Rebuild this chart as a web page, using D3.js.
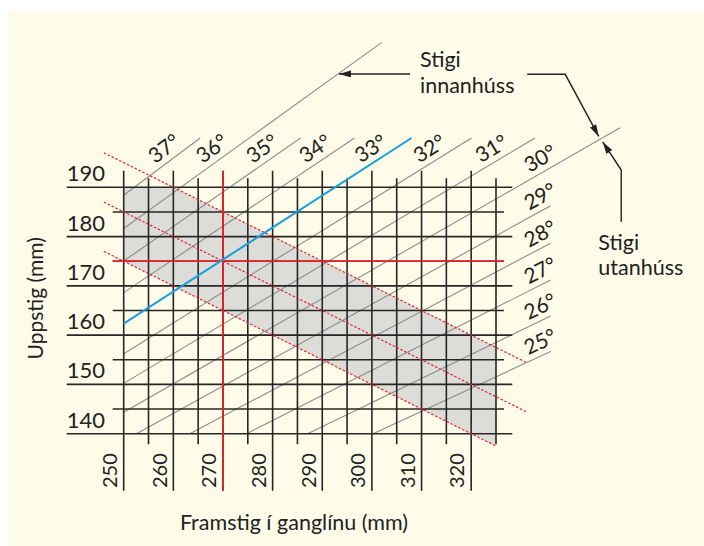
<!DOCTYPE html>
<html>
<head>
<meta charset="utf-8">
<script src="https://cdn.jsdelivr.net/npm/d3@7"></script>
<style>
  body { margin: 0; background: #fff; }
  text { font-family: Lato, "Open Sans", sans-serif; fill: #222; }
</style>
</head>
<body>
<div id="chart"></div>
<script>
var width = 704,
    height = 546;

// grid values (mm)
var xMajor = [250, 260, 270, 280, 290, 300, 310, 320];
var xMinor = [255, 265, 275, 285, 295, 305, 315, 325];
var yMajor = [140, 150, 160, 170, 180, 190];
var yMinor = [145, 155, 165, 175, 185];

// stair angles (degrees)
var angles = [25, 26, 27, 28, 29, 30, 31, 32, 33, 34, 35, 36, 37];
var upperLabels = [31, 32, 33, 34, 35, 36, 37];
var rightLabels = [25, 26, 27, 28, 29, 30];
// two lines run longer, for the notes
var longLines = [{angle: 30, xEnd: 350}, {angle: 36, xEnd: 302}];

// step rule 2R + G
var stepSums = [600, 620, 640];
var stepStart = [246, 246, 246];
var stepEnd = [325, 331, 331];

// chosen stair: 270 / 175, about 33 deg
var pick = {tread: 270, riser: 175, angle: 33};

var svg = d3.select("#chart").append("svg")
    .attr("width", width)
    .attr("height", height);

svg.append("rect")
    .attr("x", 9).attr("y", 11)
    .attr("width", width - 9).attr("height", height - 11)
    .attr("fill", "#fefce8");

var x = d3.scaleLinear().domain([250, 325]).range([123.7, 496]);
var y = d3.scaleLinear().domain([140, 190]).range([433.7, 187.3]);

function rad(a) { return a * Math.PI / 180; }

// shaded band between 600 and 640
var bandX = [250, 640 - 2 * 190, 325];
var area = d3.area()
    .x(function(d) { return x(d); })
    .y0(function(d) { return y((600 - d) / 2); })
    .y1(function(d) { return y(Math.min(190, (640 - d) / 2)); });
svg.append("path")
    .attr("d", area(bandX))
    .attr("fill", "#dcdcd9");

// angle lines
var diag = svg.append("g").attr("class", "diag");
angles.forEach(function(a) {
  var t = Math.tan(rad(a));
  var x0 = Math.max(250, 140 / t);
  var x1 = Math.min(336, 200 / t);
  longLines.forEach(function(l) { if (l.angle == a) x1 = l.xEnd; });
  diag.append("line")
      .attr("x1", x(x0)).attr("y1", y(x0 * t))
      .attr("x2", x(x1)).attr("y2", y(x1 * t))
      .attr("stroke", "#8c8c8c")
      .attr("stroke-width", 1.1);
});

// grid
var grid = svg.append("g").attr("class", "grid")
    .attr("stroke", "#262626").attr("stroke-width", 1.6);
grid.selectAll(".vmaj").data(xMajor).enter().append("line")
    .attr("x1", function(d) { return x(d); })
    .attr("x2", function(d) { return x(d); })
    .attr("y1", y(190) - 16.6)
    .attr("y2", y(140) + 57);
grid.selectAll(".vmin").data(xMinor).enter().append("line")
    .attr("x1", function(d) { return x(d); })
    .attr("x2", function(d) { return x(d); })
    .attr("y1", y(190) - 9)
    .attr("y2", y(140) + 10.5);
grid.selectAll(".hmaj").data(yMajor).enter().append("line")
    .attr("y1", function(d) { return y(d); })
    .attr("y2", function(d) { return y(d); })
    .attr("x1", x(250) - 57)
    .attr("x2", x(325) + 16.3);
grid.selectAll(".hmin").data(yMinor).enter().append("line")
    .attr("y1", function(d) { return y(d); })
    .attr("y2", function(d) { return y(d); })
    .attr("x1", x(250) - 11)
    .attr("x2", x(325) + 8);

// step rule lines
stepSums.forEach(function(s, i) {
  svg.append("line")
      .attr("x1", x(stepStart[i])).attr("y1", y((s - stepStart[i]) / 2))
      .attr("x2", x(stepEnd[i])).attr("y2", y((s - stepEnd[i]) / 2))
      .attr("stroke", "#e3222a")
      .attr("stroke-width", 1.2)
      .attr("stroke-dasharray", "2.5,1.8");
});

// red cross
svg.append("line")
    .attr("x1", x(pick.tread)).attr("x2", x(pick.tread))
    .attr("y1", y(190) - 16.6).attr("y2", y(140) + 57)
    .attr("stroke", "#e8202a").attr("stroke-width", 1.8);
svg.append("line")
    .attr("y1", y(pick.riser)).attr("y2", y(pick.riser))
    .attr("x1", x(250) - 11).attr("x2", x(325) + 8)
    .attr("stroke", "#e8202a").attr("stroke-width", 1.8);

// blue line
var tb = Math.tan(rad(pick.angle));
svg.append("line")
    .attr("x1", x(250)).attr("y1", y(250 * tb))
    .attr("x2", x(200 / tb)).attr("y2", y(200))
    .attr("stroke", "#1ba1dd").attr("stroke-width", 2);

// tick labels
svg.selectAll(".xl").data(xMajor).enter().append("text")
    .attr("transform", function(d) { return "translate(" + (x(d) - 6.7) + ",488) rotate(-90)"; })
    .attr("font-size", 20)
    .text(function(d) { return d; });
svg.selectAll(".yl").data(yMajor).enter().append("text")
    .attr("x", 66.7)
    .attr("y", function(d) { return y(d) - 6; })
    .attr("font-size", 22)
    .text(function(d) { return d; });

// angle labels
var sx = (y(140) - y(190)) / 50 / ((x(325) - x(250)) / 75);
function pixAngle(a) { return Math.atan(Math.tan(rad(a)) * sx); }
var off = 13.5;
function angleLabel(a, cx, cy) {
  svg.append("text")
      .attr("transform", "translate(" + cx + "," + cy + ") rotate(" + (-pixAngle(a) * 180 / Math.PI) + ")")
      .attr("text-anchor", "middle")
      .attr("dy", "0.36em")
      .attr("font-size", 21)
      .text(a + "°");
}
upperLabels.forEach(function(a) {
  var p = pixAngle(a), t = Math.tan(rad(a));
  var py = 148.3 + off * Math.cos(p);
  var px = x(y.invert(py) / t);
  angleLabel(a, px - off * Math.sin(p), py - off * Math.cos(p));
});
rightLabels.forEach(function(a) {
  var p = pixAngle(a), t = Math.tan(rad(a));
  var px = 540 + off * Math.sin(p);
  var py = y(x.invert(px) * t);
  angleLabel(a, 540, py - off * Math.cos(p));
});

// axis titles
svg.append("text")
    .attr("x", 294).attr("y", 530)
    .attr("text-anchor", "middle")
    .attr("font-size", 21.5)
    .text("Framstig í ganglínu (mm)");
svg.append("text")
    .attr("transform", "translate(43.3,298.3) rotate(-90)")
    .attr("text-anchor", "middle")
    .attr("font-size", 21)
    .text("Uppstig (mm)");

// notes with arrows
svg.append("defs").append("marker")
    .attr("id", "arr")
    .attr("markerUnits", "userSpaceOnUse")
    .attr("markerWidth", 12).attr("markerHeight", 7)
    .attr("refX", 12).attr("refY", 3.5)
    .attr("orient", "auto")
  .append("path")
    .attr("d", "M0,0 L12,3.5 L0,7 z")
    .attr("fill", "#222");

var t36 = Math.tan(rad(36));
var tipIn = [x(213 / t36), y(213)];
svg.append("line")
    .attr("x1", 410).attr("y1", tipIn[1])
    .attr("x2", tipIn[0] + 1).attr("y2", tipIn[1])
    .attr("stroke", "#222").attr("stroke-width", 1.4)
    .attr("marker-end", "url(#arr)");
svg.append("text").attr("x", 420).attr("y", 66.7).attr("font-size", 21.5).text("Stigi");
svg.append("text").attr("x", 420).attr("y", 92.7).attr("font-size", 21.5).text("innanhúss");

var t30 = Math.tan(rad(30));
var tipOut = [x(346), y(346 * t30)];
var line = d3.line();
svg.append("path")
    .attr("d", line([[tipOut[0] - 73, 74.3], [tipOut[0] - 35, 74.3], [tipOut[0] - 1.5, tipOut[1] - 2.8]]))
    .attr("fill", "none").attr("stroke", "#222").attr("stroke-width", 1.4)
    .attr("marker-end", "url(#arr)");
svg.append("path")
    .attr("d", line([[tipOut[0] + 21, 221.7], [tipOut[0] + 21, 170], [tipOut[0] + 2.5, tipOut[1] + 2.8]]))
    .attr("fill", "none").attr("stroke", "#222").attr("stroke-width", 1.4)
    .attr("marker-end", "url(#arr)");
svg.append("text").attr("x", 598.3).attr("y", 250).attr("font-size", 21.5).text("Stigi");
svg.append("text").attr("x", 598.3).attr("y", 275).attr("font-size", 21.5).text("utanhúss");
</script>
</body>
</html>
